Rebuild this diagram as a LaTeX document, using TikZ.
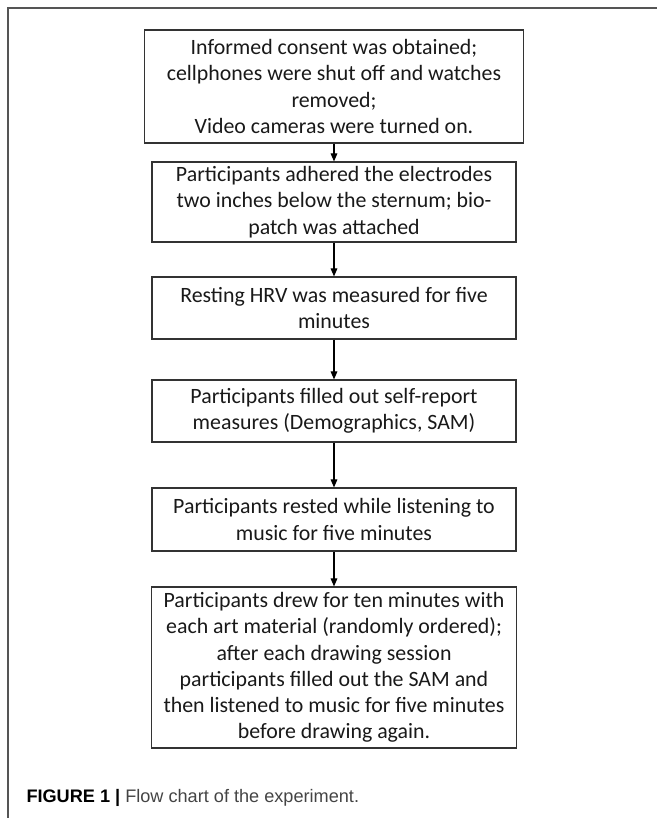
\documentclass[tikz,border=0pt]{standalone}
\usepackage{fontspec}
\setmainfont{Carlito}
\newfontfamily\capfont{Liberation Sans}
\usetikzlibrary{arrows.meta}

\tikzset{every picture/.style={line width=0.75pt}}
\tikzset{
  stepbox/.style={draw={rgb,255:red,51;green,51;blue,51}, line width=0.9pt, inner sep=0pt,
    align=center, text={rgb,255:red,25;green,25;blue,25},
    font=\fontsize{16.4}{19.7}\selectfont},
  flowarrow/.style={draw=black, line width=0.8pt, -{Triangle[length=6pt,width=5pt]}},
  framerule/.style={draw={rgb,255:red,85;green,85;blue,85}, line width=0.8pt}
}

\begin{document}
\begin{tikzpicture}[x=0.75pt,y=0.75pt,yscale=-1,xscale=1]
\useasboundingbox (0,0) rectangle (657,818);

%Straight Lines [id:frame]
\draw [framerule] (8,818) -- (8,8) -- (657,8) ;

%Shape: Rectangle [id:consent]
\node [stepbox, minimum width=284.25pt, minimum height=84.75pt] (consent) at (334,86.5)
  {Informed consent was obtained;\\ cellphones were shut off and watches\\ removed;\\ Video cameras were turned on.};
%Shape: Rectangle [id:electrodes]
\node [stepbox, minimum width=273pt, minimum height=60pt] (electrodes) at (334,202)
  {Participants adhered the electrodes\\ two inches below the sternum; bio-\\ patch was attached};
%Shape: Rectangle [id:resting]
\node [stepbox, minimum width=273pt, minimum height=46.5pt] (resting) at (334,308)
  {Resting HRV was measured for five\\ minutes};
%Shape: Rectangle [id:selfreport]
\node [stepbox, minimum width=273pt, minimum height=46.5pt] (selfreport) at (334,411)
  {Participants filled out self-report\\ measures (Demographics, SAM)};
%Shape: Rectangle [id:music]
\node [stepbox, minimum width=273pt, minimum height=47.25pt] (music) at (334,519.5)
  {Participants rested while listening to\\ music for five minutes};
%Shape: Rectangle [id:drawing]
\node [stepbox, minimum width=273.75pt, minimum height=120.75pt] (drawing) at (334,667.5)
  {Participants drew for ten minutes with\\ each art material (randomly ordered);\\ after each drawing session\\ participants filled out the SAM and\\ then listened to music for five minutes\\ before drawing again.};

%Straight Lines [id:arrows]
\draw [flowarrow] (consent) -- (electrodes) ;
\draw [flowarrow] (electrodes) -- (resting) ;
\draw [flowarrow] (resting) -- (selfreport) ;
\draw [flowarrow] (selfreport) -- (music) ;
\draw [flowarrow] (music) -- (drawing) ;

% Text Node
\node [anchor=base west, inner sep=0pt, font=\capfont\fontsize{13.6}{16}\selectfont] (caption) at (26,802)
  {\textbf{FIGURE 1} \textbf{|} \textcolor[RGB]{68,68,68}{Flow chart of the experiment.}};

\end{tikzpicture}
\end{document}
